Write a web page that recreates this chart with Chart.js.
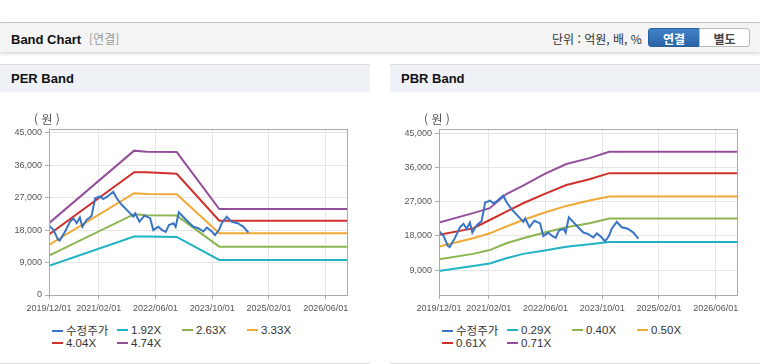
<!DOCTYPE html>
<html lang="ko">
<head>
<meta charset="utf-8">
<title>Band Chart</title>
<script src="https://cdn.jsdelivr.net/npm/chart.js@4.4.1/dist/chart.umd.min.js"></script>
<style>
  html, body { margin: 0; padding: 0; background: #fff; }
  body {
    width: 760px; height: 364px; position: relative; overflow: hidden;
    font-family: 'Liberation Sans', 'Noto Sans CJK KR', sans-serif; color: #333;
  }
  .header {
    position: absolute; left: 0; top: 22px; width: 760px; height: 29px;
    background: #f4f4f4; border-top: 1px solid #c4c4c4;
    box-shadow: 0 2px 3px rgba(0, 0, 0, 0.15);
  }
  .header .title { position: absolute; left: 11px; top: 7px; font-size: 13px; font-weight: bold; color: #111; }
  .header .title span { color: #999; font-weight: normal; font-size: 12px; margin-left: 8px; font-family: 'Noto Sans CJK KR', sans-serif; }
  .header .unit { position: absolute; left: 552px; top: 7px; font-size: 12px; color: #333; font-family: 'Noto Sans CJK KR', sans-serif; }
  .btn {
    position: absolute; top: 5px; height: 19px; line-height: 19px; text-align: center;
    font-size: 12px; font-weight: bold; font-family: 'Noto Sans CJK KR', sans-serif; box-sizing: border-box;
  }
  .btn.on { left: 648px; width: 52px; background: linear-gradient(#3f82c9, #2a63a6); color: #fff; border-radius: 3px 0 0 3px; border: 1px solid #2a5f9e; }
  .btn.off { left: 699px; width: 51px; background: #fff; color: #444; border: 1px solid #bbb; border-radius: 0 3px 3px 0; }
  .panel {
    position: absolute; top: 64px; width: 370px; height: 298px;
    border-top: 1px solid #dcdcdc; border-bottom: 1px solid #dcdcdc;
  }
  .panel h3 {
    margin: 0; height: 27px; line-height: 27px; padding-left: 11px;
    background: #eef2f7; font-size: 13px; font-weight: bold; color: #111;
  }
  .panel canvas { position: absolute; left: 0; top: 35px; }
  .won { position: absolute; left: 34px; top: 45px; z-index: 2; font-size: 12px; color: #555; white-space: nowrap; font-family: 'Noto Sans CJK KR', sans-serif; }
  .legend { position: absolute; left: 0; top: 259px; width: 370px; height: 30px; }
  .legend div { position: absolute; height: 13px; line-height: 13px; font-size: 11.5px; color: #333; white-space: nowrap; }
  .legend i { display: inline-block; width: 11px; height: 2px; vertical-align: middle; margin-right: 3px; position: relative; top: -1px; }
  .legend b { font-weight: normal; font-family: 'Noto Sans CJK KR', sans-serif; }
</style>
</head>
<body>

<div class="header">
  <div class="title">Band Chart<span>[연결]</span></div>
  <div class="unit">단위 : 억원, 배, %</div>
  <div class="btn on">연결</div>
  <div class="btn off">별도</div>
</div>

<div class="panel" style="left:0">
  <h3>PER Band</h3>
  <canvas id="perChart" width="370" height="220"></canvas>
  <div class="won">( 원 )</div>
  <div class="legend" id="perLegend"></div>
</div>

<div class="panel" style="left:390px">
  <h3>PBR Band</h3>
  <canvas id="pbrChart" width="370" height="220"></canvas>
  <div class="won">( 원 )</div>
  <div class="legend" id="pbrLegend"></div>
</div>

<script>
// --- Data ---
// x values are months counted from 2019/12
const xTickMonths = [0, 14, 30, 46, 62, 78];
const xTickLabels = ['2019/12/01', '2021/02/01', '2022/06/01', '2023/10/01', '2025/02/01', '2026/06/01'];

const perYTicks = [0, 9000, 18000, 27000, 36000, 45000];
const pbrYTicks = [9000, 18000, 27000, 36000, 45000];

// 수정주가 (same stock price on both charts)
const priceMonths = [0, 1.3, 2.5, 3.0, 4.5, 5.9, 6.9, 7.8, 8.7, 9.4, 10.6, 12.0, 13.0, 14.4, 15.3, 16.5,
  18.1, 19.1, 20.5, 22.4, 23.8, 24.3, 25.5, 26.9, 28.5, 29.4, 30.8, 31.9, 32.9, 33.8, 35.1, 35.7,
  36.6, 37.8, 39.2, 40.7, 42.1, 43.5, 44.5, 45.9, 46.8, 47.9, 48.7, 50.1, 51.5, 53.2, 54.8, 56.2];
const priceValues = [19300, 18000, 15400, 15100, 17500, 20300, 21200, 19900, 21500, 18900, 20800, 21900, 26800, 27300, 26600, 27300,
  28600, 26800, 25000, 23100, 21700, 22600, 20300, 22000, 21300, 18000, 18900, 18000, 17500, 19400, 19900, 18900,
  22900, 21700, 20300, 18900, 18500, 17600, 18700, 17600, 16600, 18000, 19900, 21700, 20300, 19900, 18900, 17300];

// PER bands
const perNames = ['수정주가', '1.92X', '2.63X', '3.33X', '4.04X', '4.74X'];
const perMonths = [0, 24, 27.5, 36, 48, 84];
const per192 = [8100, 16200, 16200, 16100, 9700, 9700];
const per263 = [10900, 22400, 22100, 22000, 13400, 13400];
const per333 = [13900, 28200, 28000, 27900, 17100, 17100];
const per404 = [16800, 34000, 34000, 33600, 20600, 20600];
const per474 = [19900, 40000, 39700, 39600, 23800, 23800];

// PBR bands
const pbrNames = ['수정주가', '0.29X', '0.40X', '0.50X', '0.61X', '0.71X'];
const pbrMonths = [0, 9.6, 14.3, 19, 23.7, 29.8, 35.9, 42.4, 48, 84];
const pbr029 = [8800, 10100, 10800, 12150, 13300, 14200, 15200, 15800, 16450, 16450];
const pbr040 = [11900, 13300, 14300, 16100, 17400, 18900, 20300, 21350, 22600, 22600];
const pbr050 = [15200, 17400, 18700, 20500, 22200, 24150, 25900, 27300, 28350, 28350];
const pbr061 = [18300, 20000, 22200, 24400, 26600, 29050, 31400, 32900, 34500, 34500];
const pbr071 = [21500, 24000, 25300, 29000, 31200, 34300, 36900, 38450, 40100, 40100];

const lineColors = ['#3a74c4', '#1fb3c2', '#8bb550', '#f0a935', '#cf302b', '#93509a'];
const tickFont = { family: "'Liberation Sans', sans-serif", size: 9 };

// --- Frame round the plot area ---
const framePlugin = {
  id: 'frame',
  afterDraw(chart) {
    const a = chart.chartArea;
    const c = chart.ctx;
    c.save();
    c.strokeStyle = '#aaaaaa';
    c.lineWidth = 1;
    c.strokeRect(Math.round(a.left) + 0.5, Math.round(a.top) + 0.5,
      Math.round(a.right - a.left), Math.round(a.bottom - a.top));
    c.restore();
  }
};

function toPoints(xs, ys) {
  return xs.map((x, i) => ({ x: x, y: ys[i] }));
}

function makeBandChart(canvasId, legendId, names, bandMonths, bands, yMin, yMax, yTicks) {
  const datasets = [{
    label: names[0],
    data: toPoints(priceMonths, priceValues),
    borderColor: lineColors[0]
  }];
  bands.forEach((vals, i) => {
    datasets.push({
      label: names[i + 1],
      data: toPoints(bandMonths, vals),
      borderColor: lineColors[i + 1]
    });
  });

  new Chart(document.getElementById(canvasId), {
    type: 'line',
    data: { datasets },
    options: {
      responsive: false,
      animation: false,
      layout: { padding: { top: 29, right: 23, left: 0, bottom: 0 } },
      elements: {
        point: { radius: 0 },
        line: { borderWidth: 2, tension: 0 }
      },
      plugins: { legend: { display: false }, tooltip: { enabled: false } },
      scales: {
        x: {
          type: 'linear', min: 0, max: 84,
          afterBuildTicks: s => { s.ticks = xTickMonths.map(v => ({ value: v })); },
          afterFit: s => { s.height = 25; },
          ticks: {
            autoSkip: false, maxRotation: 0, padding: 4, color: '#555', font: tickFont,
            callback: (v, i) => xTickLabels[i]
          },
          grid: { color: '#e6e6e6', tickColor: '#aaa', tickLength: 4 },
          border: { color: '#aaa' }
        },
        y: {
          min: yMin, max: yMax,
          afterBuildTicks: s => { s.ticks = yTicks.map(v => ({ value: v })); },
          afterFit: s => { s.width = 49; },
          ticks: {
            padding: 3, color: '#555', font: tickFont,
            callback: v => v.toLocaleString('en-US')
          },
          grid: { color: '#e6e6e6', tickColor: '#aaa', tickLength: 4 },
          border: { color: '#aaa' }
        }
      }
    },
    plugins: [framePlugin]
  });

  // legend in two rows of four columns
  const legend = document.getElementById(legendId);
  names.forEach((name, i) => {
    const item = document.createElement('div');
    item.style.left = (52 + (i % 4) * 65) + 'px';
    item.style.top = (Math.floor(i / 4) * 12.6) + 'px';
    item.innerHTML = '<i style="background:' + lineColors[i] + '"></i>' + (i === 0 ? '<b>' + name + '</b>' : name);
    legend.appendChild(item);
  });
}

makeBandChart('perChart', 'perLegend', perNames, perMonths,
  [per192, per263, per333, per404, per474], 0, 46000, perYTicks);
makeBandChart('pbrChart', 'pbrLegend', pbrNames, pbrMonths,
  [pbr029, pbr040, pbr050, pbr061, pbr071], 2500, 46100, pbrYTicks);
</script>
</body>
</html>
